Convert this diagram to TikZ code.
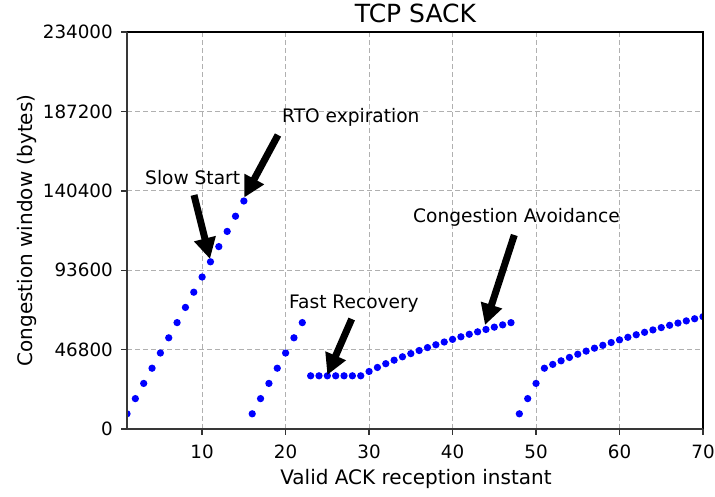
\documentclass[tikz,border=0pt]{standalone}
\usepackage{fontspec}
\setmainfont{DejaVu Sans}
\usetikzlibrary{arrows.meta}

\begin{document}
\begin{tikzpicture}[x=1pt,y=-1pt,
  gridline/.style={draw=black!31, line width=1pt, dash pattern=on 5pt off 3pt},
  spineA/.style={draw=black!78, line width=2.4pt},
  spineB/.style={draw=black, line width=1.6pt},
  tickmark/.style={draw=black!80, line width=1.4pt},
  ticklbl/.style={font=\fontsize{18.3}{20}\selectfont, inner sep=0pt},
  annot/.style={font=\fontsize{18.6}{20}\selectfont, inner sep=0pt, anchor=base west},
  axlbl/.style={font=\fontsize{20}{22}\selectfont, inner sep=0pt},
  ttl/.style={font=\fontsize{25}{28}\selectfont, inner sep=0pt, anchor=base},
  callout/.style={line width=7pt, -{Triangle[length=21pt,width=21pt]}},
]
\useasboundingbox (0,0) rectangle (715,496);

% axes box corners
\coordinate (ll) at (127,429);
\coordinate (ur) at (703,32);

% grid
\foreach \k in {1,...,6}
  \draw[gridline] ({127+(10*\k-1)*8.3478},32) -- ({127+(10*\k-1)*8.3478},429);
\foreach \k in {1,...,4}
  \draw[gridline] (127,{429-\k*79.4}) -- (703,{429-\k*79.4});

% congestion window samples
\begin{scope}
  \clip (ll) rectangle (ur);
  \foreach \u [count=\i] in {1,2,3,4,5,6,7,8,9,10,11,12,13,14,15,
      1,2,3,4,5,6,7,
      3.5,3.5,3.5,3.5,3.5,3.5,3.5,
      3.7857,4.0499,4.2968,4.5295,4.7503,4.9608,5.1624,5.3561,5.5428,
      5.7232,5.8979,6.0675,6.2323,6.3928,6.5492,6.7019,6.8511,6.9971,
      1,2,3,
      4,4.25,4.4853,4.7083,4.9207,5.1239,5.3191,5.5071,5.6887,5.8645,
      6.0350,6.2007,6.3620,6.5192,6.6726,6.8224,6.9690,7.1125,7.2531,7.3910}
    \fill[blue] ({127+(\i-1)*8.3478},{429-\u*15.2}) circle[radius=3.65];
\end{scope}

% spines
\draw[spineB] (127,32) -- (703,32) -- (703,429);
\draw[spineA] (127,32) -- (127,429) -- (703,429);

% x ticks and labels
\foreach \k in {1,...,7} {
  \draw[tickmark] ({127+(10*\k-1)*8.3478},429) -- ({127+(10*\k-1)*8.3478},435);
  \node[ticklbl, anchor=base] (xt\k) at ({127+(10*\k-1)*8.3478},458) {\number\numexpr10*\k\relax};
}

% y ticks and labels
\foreach \k/\lab in {0/0,1/46800,2/93600,3/140400,4/187200,5/234000} {
  \draw[tickmark] (121,{429-\k*79.4}) -- (127,{429-\k*79.4});
  \node[ticklbl, anchor=base east] (yt\k) at (113,{429-\k*79.4+6.7}) {\lab};
}

% titles
\node[ttl] (title) at (415.5,22) {TCP SACK};
\node[axlbl, anchor=base] (xlabel) at (416,484) {Valid ACK reception instant};
\node[axlbl, anchor=base, rotate=90] (ylabel) at (32,230.5) {Congestion window (bytes)};

% annotations
\node[annot] (ss)  at (145,184) {Slow Start};
\node[annot] (rto) at (282,122) {RTO expiration};
\node[annot] (fr)  at (289,308) {Fast Recovery};
\node[annot] (ca)  at (413,222) {Congestion Avoidance};

\coordinate (ssT) at (194,195);   \coordinate (ssH) at (210,259);
\coordinate (rtoT) at (278,135);  \coordinate (rtoH) at (244.3,197.5);
\coordinate (frT) at (351.7,319); \coordinate (frH) at (327.3,375);
\coordinate (caT) at (514.3,235); \coordinate (caH) at (485,325);

\draw[callout] (ssT) -- (ssH);
\draw[callout] (rtoT) -- (rtoH);
\draw[callout] (frT) -- (frH);
\draw[callout] (caT) -- (caH);
\end{tikzpicture}
\end{document}
